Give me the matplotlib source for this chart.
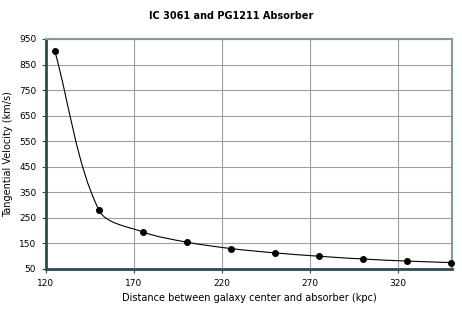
import numpy as np
import matplotlib
matplotlib.use('Agg')
from matplotlib import pyplot as plt
from matplotlib.path import Path
from matplotlib.patches import PathPatch

# distance (kpc) and tangential velocity (km/s)
distance = [125, 150, 175, 200, 225, 250, 275, 300, 325, 350]
velocity = [903, 281, 195, 155, 130, 113, 100, 89, 81, 75]
x_ticks = [120, 170, 220, 270, 320]
y_ticks = [50, 150, 250, 350, 450, 550, 650, 750, 850, 950]

fig = plt.figure(figsize=(4.62, 3.14), dpi=100)
ax = fig.add_axes([46 / 462, 1 - 269 / 314, 406 / 462, 230 / 314])
ax.set_xlim(120, 350.5)
ax.set_ylim(50, 950)

# smoothed line like a spreadsheet chart: Bezier through the points,
# tangents weighted by neighbouring segment lengths in screen space
pts = ax.transData.transform(np.column_stack([distance, velocity]))
n = len(pts)
verts = [tuple(pts[0])]
codes = [Path.MOVETO]
for i in range(n - 1):
    p0 = pts[max(i - 1, 0)]
    p1 = pts[i]
    p2 = pts[i + 1]
    p3 = pts[min(i + 2, n - 1)]
    d01 = np.hypot(*(p1 - p0))
    d12 = np.hypot(*(p2 - p1))
    d23 = np.hypot(*(p3 - p2))
    w1 = d12 / (d01 + d12) if d01 > 0 else 0.5
    w2 = d12 / (d12 + d23) if d23 > 0 else 0.5
    c1 = p1 + (p2 - p0) * w1 / 3 if d01 > 0 else p1 + (p2 - p1) / 3
    c2 = p2 - (p3 - p1) * w2 / 3 if d23 > 0 else p2 - (p2 - p1) / 3
    verts += [tuple(c1), tuple(c2), tuple(p2)]
    codes += [Path.CURVE4] * 3
verts = ax.transData.inverted().transform(np.array(verts))
ax.add_patch(PathPatch(Path(verts, codes), facecolor='none', edgecolor='black', lw=0.8, zorder=3))
ax.plot(distance, velocity, 'o', color='black', ms=4, zorder=4, clip_on=False)

ax.set_xticks(x_ticks)
ax.set_yticks(y_ticks)
ax.grid(True, color='#a0a0a0', lw=0.8)
ax.set_axisbelow(True)

for side in ['top', 'right']:
    ax.spines[side].set_color('#7f9aa0')
    ax.spines[side].set_linewidth(1.5)
for side in ['left', 'bottom']:
    ax.spines[side].set_color('#2f4a50')
    ax.spines[side].set_linewidth(2)

ax.tick_params(axis='both', labelsize=6.5, length=3, width=0.8, color='#2f4a50', pad=4)
ax.set_xlabel('Distance between galaxy center and absorber (kpc)', fontsize=7)
ax.set_ylabel('Tangential Velocity (km/s)', fontsize=7)
fig.suptitle('IC 3061 and PG1211 Absorber', fontsize=7, fontweight='bold', y=0.965)

fig.savefig('out.png', dpi=100)
